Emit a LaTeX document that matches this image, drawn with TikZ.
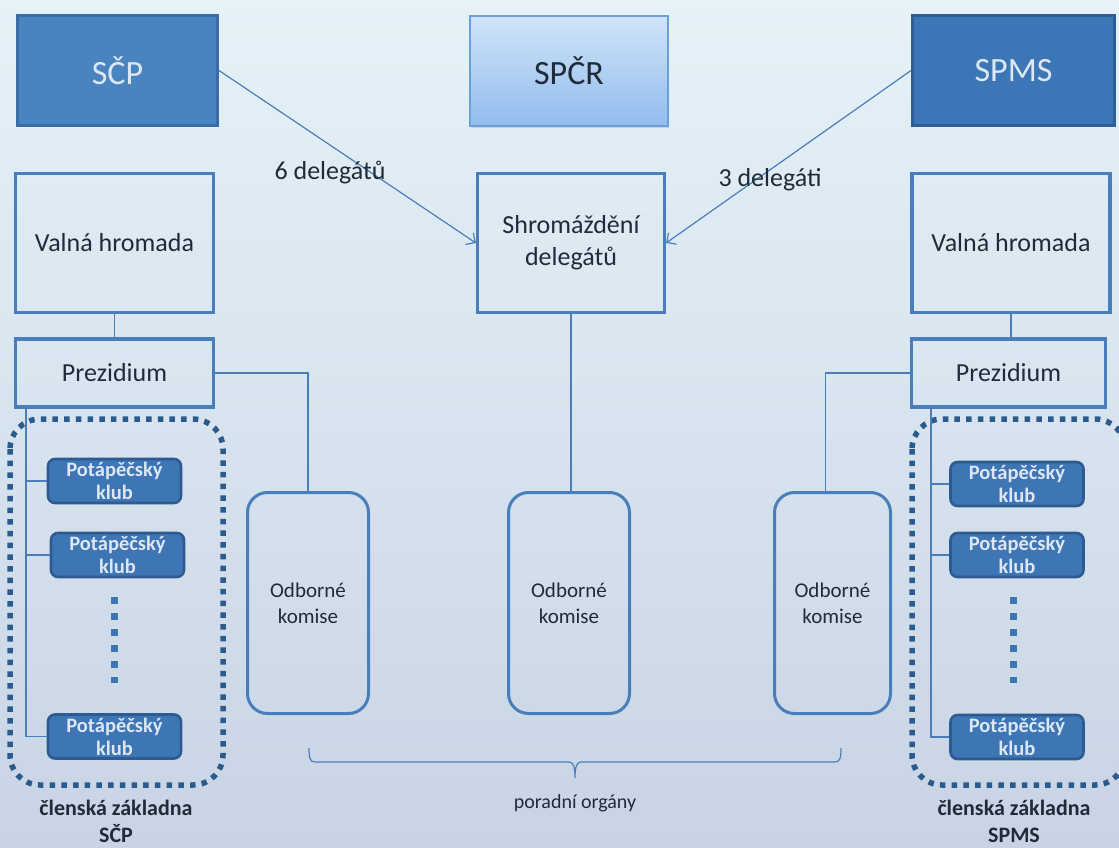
\documentclass[tikz,border=0pt]{standalone}
\usepackage{fontspec}
\setmainfont{Carlito}
\usetikzlibrary{arrows.meta}
\usetikzlibrary{shadows}

\definecolor{bgtop}{HTML}{E6F2F8}
\definecolor{bgmid}{HTML}{D2E1ED}
\definecolor{bgbot}{HTML}{C8D4E4}
\definecolor{linecol}{HTML}{4A7EBB}
\definecolor{scpfill}{HTML}{4A84C0}
\definecolor{scpedge}{HTML}{3A6CA5}
\definecolor{spmsfill}{HTML}{3D76B6}
\definecolor{spmsedge}{HTML}{2E5E95}
\definecolor{spcrtop}{HTML}{CFE4F8}
\definecolor{spcrbot}{HTML}{93BCEE}
\definecolor{spcredge}{HTML}{6B9FD7}
\definecolor{klubfill}{HTML}{3E75B5}
\definecolor{klubedge}{HTML}{2C5B92}
\definecolor{dotcol}{HTML}{2B5A8C}
\definecolor{textcol}{HTML}{1F2B38}
\definecolor{paletext}{HTML}{DCE7F3}

\tikzset{
  headbox/.style={line width=3pt, inner sep=0pt, minimum height=110pt,
    font=\fontsize{34}{40}\selectfont},
  orgbox/.style={draw=linecol, line width=3.2pt, inner sep=0pt, align=center,
    text=textcol, font=\fontsize{26}{32}\selectfont},
  komise/.style={draw=linecol, line width=3pt, rounded corners=20pt, inner sep=0pt,
    minimum height=221pt, align=center, text=textcol, font=\fontsize{21}{26}\selectfont},
  klub/.style={draw=klubedge, line width=2.6pt, fill=klubfill, rounded corners=7pt,
    inner sep=0pt, minimum width=133pt, minimum height=44pt, align=center,
    text=paletext, font=\bfseries\fontsize{20.5}{23}\selectfont},
  members/.style={draw=dotcol, line width=5.5pt, dash pattern=on 5.5pt off 6.2pt,
    rounded corners=30pt},
  klubdots/.style={draw=klubfill, line width=7pt, dash pattern=on 7pt off 9pt},
  conn/.style={draw=linecol, line width=1.2pt},
  lbl/.style={text=textcol, font=\fontsize{26}{32}\selectfont},
  foot/.style={text=textcol, align=center, font=\bfseries\fontsize{22}{27}\selectfont}
}

\begin{document}
\begin{tikzpicture}[x=1pt, y=-1pt, >={Straight Barb[length=7pt,width=14pt]}]
\useasboundingbox (0,0) rectangle (1119,848);
\shade [top color=bgtop, middle color=bgmid, bottom color=bgbot] (0,0) rectangle (1119,848);
\clip (0,0) rectangle (1119,848);

% top row
\node [headbox, fill=scpfill, draw=scpedge, text=paletext, minimum width=200pt] (scp) at (117.5,70.5) {SČP};
\node [headbox, top color=spcrtop, bottom color=spcrbot, draw=spcredge, line width=2pt, text=textcol,
       minimum width=198pt, drop shadow={opacity=0.25, shadow xshift=1pt, shadow yshift=-2pt}] (spcr) at (569,71) {SPČR};
\node [headbox, fill=spmsfill, draw=spmsedge, text=paletext, minimum width=202pt] (spms) at (1013.5,70.5) {SPMS};

% second row
\node [orgbox, minimum width=198pt, minimum height=139pt] (valna1) at (114.5,243) {Valná hromada};
\node [orgbox, minimum width=187pt, minimum height=139pt] (shrom) at (571,243) {Shromáždění\\delegátů};
\node [orgbox, minimum width=198pt, minimum height=139pt] (valna2) at (1011,243) {Valná hromada};

\node [orgbox, minimum width=198pt, minimum height=68pt] (prez1) at (114.5,373) {Prezidium};
\node [orgbox, minimum width=194pt, minimum height=68pt] (prez2) at (1008.5,373) {Prezidium};

% odborne komise
\node [komise, minimum width=121pt] (kom1) at (308,603) {Odborné\\komise};
\node [komise, minimum width=121pt] (kom2) at (569,603) {Odborné\\komise};
\node [komise, minimum width=116pt] (kom3) at (832.5,603) {Odborné\\komise};

% clenska zakladna
\draw  [members] (10,419) rectangle (223,785);
\draw  [members] (912,419) rectangle (1125,785);

\node [klub] (klub1a) at (114.5,481) {Potápěčský\\klub};
\node [klub] (klub1b) at (117.5,555) {Potápěčský\\klub};
\node [klub] (klub1c) at (114.5,736.5) {Potápěčský\\klub};
\node [klub] (klub2a) at (1017,484) {Potápěčský\\klub};
\node [klub] (klub2b) at (1017,555) {Potápěčský\\klub};
\node [klub] (klub2c) at (1017,737) {Potápěčský\\klub};

\draw  [klubdots] (114,597) -- (114,683);
\draw  [klubdots] (1013,597) -- (1013,683);

% connectors
\draw  [conn,->] (scp.east) -- (shrom.west);
\draw  [conn,->] (spms.west) -- (shrom.east);
\node [lbl] (six) at (330,173) {6 delegátů};
\node [lbl] (three) at (770,180) {3 delegáti};

\draw  [conn] (valna1) -- (prez1);
\draw  [conn] (valna2.south) -- (valna2.south |- prez2.north);
\draw  [conn] (shrom.south) -- (shrom.south |- kom2.north);
\draw  [conn] (prez1.east) -| (kom1.north);
\draw  [conn] (prez2.west) -| ([xshift=-7pt]kom3.north);

\draw  [conn] ([xshift=12pt]prez1.south west) |- (klub1a.west);
\draw  [conn] ([xshift=12pt]prez1.south west) |- (klub1b.west);
\draw  [conn] ([xshift=12pt]prez1.south west) |- (klub1c.west);
\draw  [conn] ([xshift=21pt]prez2.south west) |- (klub2a.west);
\draw  [conn] ([xshift=21pt]prez2.south west) |- (klub2b.west);
\draw  [conn] ([xshift=21pt]prez2.south west) |- (klub2c.west);

% brace
\draw  [conn] (309,748) .. controls (309,758) and (310,762) .. (315,762) -- (569,762)
  .. controls (573,762) and (575,766) .. (575,778)
  .. controls (575,766) and (577,762) .. (581,762) -- (835,762)
  .. controls (840,762) and (841,758) .. (841,748);
\node [text=textcol, font=\fontsize{20}{24}\selectfont] (porad) at (575,803) {poradní orgány};

\node [foot] (foot1) at (116,821) {členská základna\\SČP};
\node [foot] (foot2) at (1014,821) {členská základna\\SPMS};
\end{tikzpicture}
\end{document}
